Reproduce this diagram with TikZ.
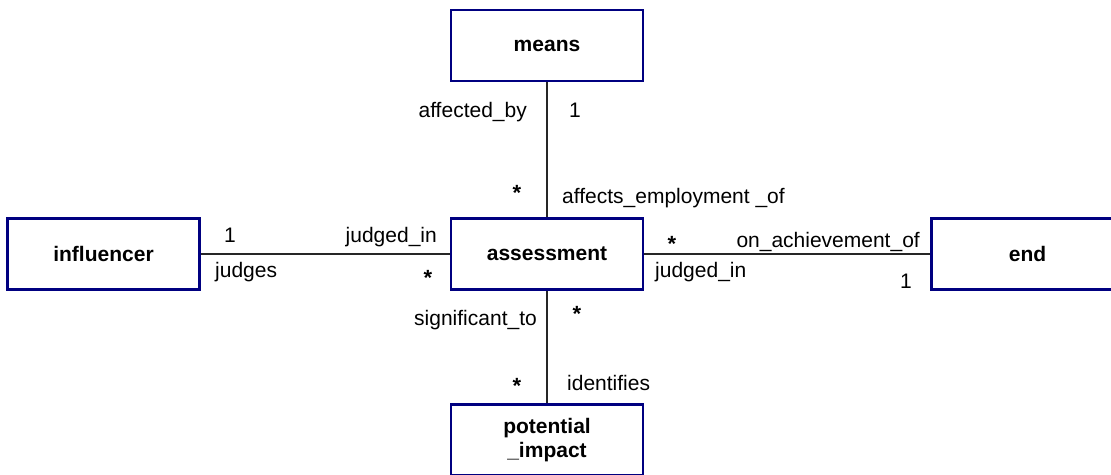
\documentclass[tikz,border=0pt]{standalone}
\usepackage{fontspec}
\setmainfont{Liberation Sans}
\begin{document}
\begin{tikzpicture}[x=1pt,y=-1pt,
  entity/.style={draw=navy,line width=2.6pt,fill=white,minimum width=192pt,
    minimum height=71pt,inner sep=0pt,align=center,
    font=\fontsize{21}{23.5}\selectfont\bfseries},
  link/.style={line width=1.3pt,draw=black!85},
  role/.style={inner sep=0pt,font=\fontsize{21}{24}\selectfont},
  mult/.style={inner sep=0pt,font=\fontsize{21}{24}\selectfont,anchor=base},
  many/.style={inner sep=0pt,font=\fontsize{22}{24}\selectfont\bfseries,anchor=base}]
\definecolor{navy}{RGB}{0,0,128}
\useasboundingbox (0,0) rectangle (1111,474);

% entity boxes
\node[entity] (means) at (547,45.5) {means};
\node[entity] (influencer) at (103.5,254) {influencer};
\node[entity] (assessment) at (547,254) {assessment};
\node[entity] (end) at (1027.5,254) {end};
\node[entity] (impact) at (547,440) {potential\\\_impact};

% associations
\draw[link] (means.south) -- (assessment.north);
\draw[link] (influencer.east) -- (assessment.west);
\draw[link] (assessment.east) -- (end.west);
\draw[link] (assessment.south) -- (impact.north);

% means -- assessment
\node[role,anchor=base east] (r1) at (527,117) {affected\_by};
\node[mult] (m1) at (575,117) {1};
\node[many] (m2) at (517,200) {*};
\node[role,anchor=base west] (r2) at (562,203) {affects\_employment \_of};

% influencer -- assessment
\node[mult] (m3) at (230,242) {1};
\node[role,anchor=base east] (r3) at (437,242) {judged\_in};
\node[role,anchor=base west] (r4) at (215,277) {judges};
\node[many] (m4) at (428,285) {*};

% assessment -- end
\node[many] (m5) at (672,251) {*};
\node[role,anchor=base east] (r5) at (920,247) {on\_achievement\_of};
\node[role,anchor=base west] (r6) at (655,277) {judged\_in};
\node[mult] (m6) at (906,288) {1};

% assessment -- potential_impact
\node[role,anchor=base east] (r7) at (537,325) {significant\_to};
\node[many] (m7) at (577,321) {*};
\node[many] (m8) at (517,393) {*};
\node[role,anchor=base west] (r8) at (567,390) {identifies};
\end{tikzpicture}
\end{document}
